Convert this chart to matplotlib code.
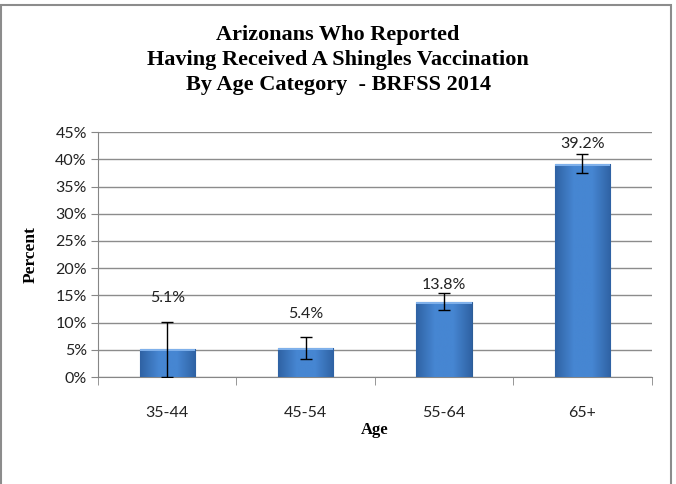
import numpy as np
import matplotlib
matplotlib.use("Agg")
import matplotlib.pyplot as plt
from matplotlib.patches import Rectangle
from matplotlib.ticker import MultipleLocator, PercentFormatter

# data
age_groups = ["35-44", "45-54", "55-64", "65+"]
percent = [5.1, 5.4, 13.8, 39.2]
ci_low = [0.0, 3.4, 12.3, 37.5]
ci_high = [10.1, 7.3, 15.4, 41.0]
label_offsets = [9.4, 6.2, 3.1, 3.6]  # how far above the bar Excel put each label

title = "Arizonans Who Reported\nHaving Received A Shingles Vaccination\nBy Age Category  - BRFSS 2014"

fig = plt.figure(figsize=(6.76, 4.84), dpi=100)
ax = fig.add_axes([0.145, 0.221, 0.819, 0.506])

x = np.arange(len(age_groups))
bars = ax.bar(x, percent, width=0.4, color="#3f7cc6", edgecolor="#2c5d97",
              linewidth=0.8, zorder=3)

# fake the Excel bevel: horizontal gradient clipped to each bar
grad = np.linspace(0, 1, 256).reshape(1, -1)
cmap = matplotlib.colors.LinearSegmentedColormap.from_list(
    "bev", ["#2f62a3", "#4686d2", "#4686d2", "#2f62a3"])
for b in bars:
    x0, w, h = b.get_x(), b.get_width(), b.get_height()
    im = ax.imshow(grad, cmap=cmap, aspect="auto", extent=(x0, x0 + w, 0, h),
                   zorder=3.5)
    im.set_clip_path(b)
    # lighter strip at top
    ax.add_patch(Rectangle((x0, h - 0.4), w, 0.4, color="#7fb0ea", zorder=3.6,
                           linewidth=0))

err = [np.array(percent) - np.array(ci_low), np.array(ci_high) - np.array(percent)]
ax.errorbar(x, percent, yerr=err, fmt="none", ecolor="black", elinewidth=1,
            capsize=4, capthick=1, zorder=4)

for xi, v, off in zip(x, percent, label_offsets):
    ax.text(xi, v + off, f"{v}%", ha="center", va="center", fontsize=11.5,
            family="Lato", color="#222222")

ax.set_xlim(-0.5, len(age_groups) - 0.5)
ax.set_ylim(0, 45)
ax.yaxis.set_major_locator(MultipleLocator(5))
ax.yaxis.set_major_formatter(PercentFormatter(decimals=0))
ax.set_xticks(x)
ax.set_xticklabels(age_groups)
ax.set_xticks(np.arange(-0.5, len(age_groups)), minor=True)
ax.tick_params(axis="x", which="major", length=0, pad=21)
ax.tick_params(axis="x", which="minor", length=6, color="#868686")
ax.tick_params(axis="y", length=5, color="#868686", pad=3)
for lab in ax.get_xticklabels() + ax.get_yticklabels():
    lab.set_family("Lato")
    lab.set_fontsize(11.5)
    lab.set_color("#222222")

ax.grid(axis="y", color="#8c8c8c", linewidth=1, zorder=0)
ax.set_axisbelow(True)
for s in ["top", "right"]:
    ax.spines[s].set_visible(False)
for s in ["left", "bottom"]:
    ax.spines[s].set_color("#868686")

ax.set_xlabel("Age", family="Liberation Serif", fontweight="bold", fontsize=12,
              labelpad=1)
ax.set_ylabel("Percent", family="Liberation Serif", fontweight="bold",
              fontsize=12.5, labelpad=12)

fig.text(0.5, 0.876, title, ha="center", va="center", family="Liberation Serif",
         fontweight="bold", fontsize=16, linespacing=1.33)

# chart border
fig.patches.append(Rectangle((0.002, -0.01), 0.991, 1.0, transform=fig.transFigure,
                             fill=False, edgecolor="#8c8c8c", linewidth=1.5))

fig.savefig("out.png", dpi=100)
